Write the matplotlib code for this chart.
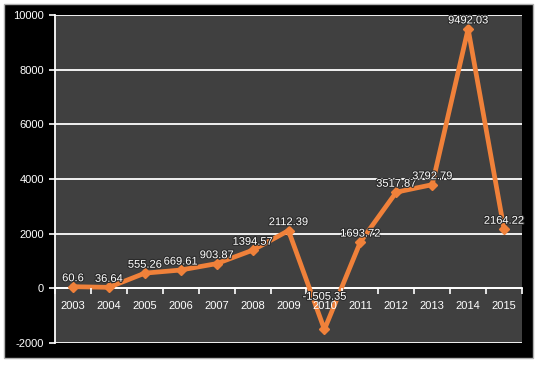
import matplotlib.pyplot as plt
import matplotlib.patheffects as pe
from matplotlib.patches import Rectangle

years = ["2003", "2004", "2005", "2006", "2007", "2008", "2009",
         "2010", "2011", "2012", "2013", "2014", "2015"]
values = [60.6, 36.64, 555.26, 669.61, 903.87, 1394.57, 2112.39,
          -1505.35, 1693.72, 3517.87, 3792.79, 9492.03, 2164.22]
labels = ["60.6", "36.64", "555.26", "669.61", "903.87", "1394.57", "2112.39",
          "-1505.35", "1693.72", "3517.87", "3792.79", "9492.03", "2164.22"]
y_ticks = [-2000, 0, 2000, 4000, 6000, 8000, 10000]

W, H = 539, 365
plt.rcParams["font.family"] = ["Liberation Sans", "DejaVu Sans"]

fig = plt.figure(figsize=(W / 100, H / 100), dpi=100, facecolor="white")
# black frame with thin grey border
fig.patches.append(Rectangle((4 / W, 1 - 358 / H), 529 / W, 354 / H,
                             transform=fig.transFigure, facecolor="black",
                             edgecolor="#b0b0b0", linewidth=1.0, zorder=-10))

ax = fig.add_axes([55 / W, 1 - 343 / H, 467 / W, 328 / H])
ax.set_facecolor("#404040")
x = list(range(len(years)))

ax.plot(x, values, color="#f0813a", linewidth=3.4, marker="D",
        markersize=5.5, zorder=4)

halo = [pe.withStroke(linewidth=1.6, foreground="#2a2a2a")]
for xi, v, lab in zip(x, values, labels):
    # the negative point's label sits up near the zero line
    dy = 20 if v < 0 else 2.5
    ax.annotate(lab, (xi, v), xytext=(0, dy), textcoords="offset points",
                ha="center", va="bottom", color="white", fontsize=8,
                path_effects=halo, zorder=6)

ax.set_xlim(-0.5, len(years) - 0.5)
ax.set_ylim(-2000, 10000)
ax.set_yticks(y_ticks)
ax.set_yticklabels([str(t) for t in y_ticks])
ax.grid(axis="y", color="white", linewidth=1.3, zorder=1)
ax.set_axisbelow(True)
ax.xaxis.set_zorder(5)  # year labels stay on top of the line

for s in ["top", "right"]:
    ax.spines[s].set_visible(False)
ax.spines["left"].set_color("white")
ax.spines["left"].set_linewidth(1.3)
ax.spines["bottom"].set_position(("data", 0))
ax.spines["bottom"].set_color("white")
ax.spines["bottom"].set_linewidth(1.3)

# category boundaries as major ticks, labels on minor ticks
ax.set_xticks([i - 0.5 for i in range(len(years) + 1)])
ax.set_xticklabels([])
ax.set_xticks(x, minor=True)
ax.set_xticklabels(years, minor=True)
ax.tick_params(axis="x", which="major", direction="out", length=4,
               color="white", width=1.2)
ax.tick_params(axis="x", which="minor", length=0, pad=9,
               labelcolor="white", labelsize=8)
ax.tick_params(axis="y", direction="out", length=4, color="white", width=1.2,
               labelcolor="white", labelsize=8, pad=4)

fig.savefig("out.png", dpi=100, facecolor="white")
